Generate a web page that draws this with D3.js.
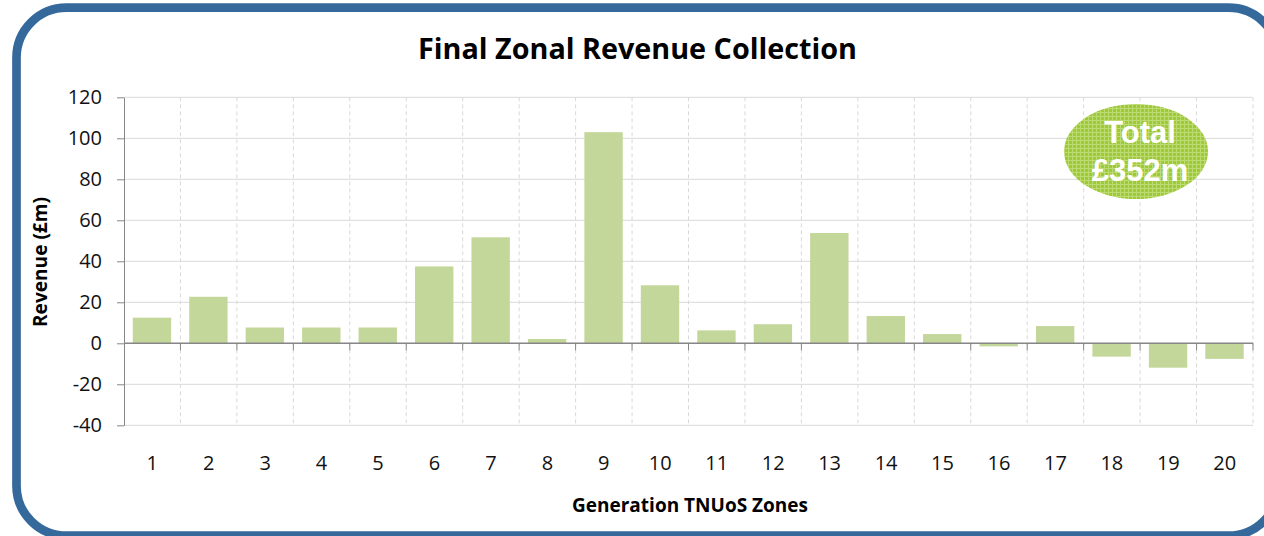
<!DOCTYPE html>
<html>
<head>
<meta charset="utf-8">
<script src="https://cdn.jsdelivr.net/npm/d3@7"></script>
<style>
  html, body { margin: 0; padding: 0; background: #ffffff; }
  svg { display: block; }
</style>
</head>
<body>
<svg id="chart" width="1264" height="536"></svg>
<script>
// ---- data ----
const zones = ["1","2","3","4","5","6","7","8","9","10","11","12","13","14","15","16","17","18","19","20"];
const revenue = [12.5, 22.7, 7.7, 7.7, 7.7, 37.5, 51.7, 2.1, 103, 28.3, 6.3, 9.3, 53.8, 13.3, 4.5, -1.5, 8.4, -6.5, -11.9, -7.6];
const yTicks = [-40, -20, 0, 20, 40, 60, 80, 100, 120];
const titleText = "Final Zonal Revenue Collection";
const xTitle = "Generation TNUoS Zones";
const yTitle = "Revenue (£m)";
const badgeLines = ["Total", "£352m"];

(function () {
const svg = d3.select("#chart");

// frame
svg.append("rect")
  .attr("x", 16.5).attr("y", 7.7)
  .attr("width", 1262).attr("height", 528)
  .attr("rx", 50).attr("ry", 50)
  .attr("fill", "#ffffff")
  .attr("stroke", "#35699c")
  .attr("stroke-width", 8.7);

const pLeft = 124, pRight = 1253, pTop = 97.3, pBottom = 425.3;
const x = d3.scaleBand().domain(zones).range([pLeft, pRight]).padding(0);
const y = d3.scaleLinear().domain([-40, 120]).range([pBottom, pTop]);
const bw = x.bandwidth();

function fitWidth(sel, target) {
  const node = sel.node();
  const fs = parseFloat(sel.attr("font-size"));
  const w = node.getComputedTextLength();
  if (w > 0) sel.attr("font-size", (fs * target / w).toFixed(2));
}

// horizontal gridlines
svg.append("g").selectAll("line").data(yTicks.filter(t => t !== 0)).join("line")
  .attr("x1", pLeft).attr("x2", pRight)
  .attr("y1", d => y(d)).attr("y2", d => y(d))
  .attr("stroke", "#d9d9d9").attr("stroke-width", 1);

// vertical dashed gridlines at category boundaries
const bounds = zones.map(z => x(z) + bw);
svg.append("g").selectAll("line").data(bounds).join("line")
  .attr("x1", d => d).attr("x2", d => d)
  .attr("y1", pTop).attr("y2", pBottom)
  .attr("stroke", "#d9d9d9").attr("stroke-width", 1)
  .attr("stroke-dasharray", "4,3");

// bars
svg.append("g").selectAll("rect").data(zones).join("rect")
  .attr("x", d => x(d) + bw * 0.155)
  .attr("width", bw * 0.68)
  .attr("y", (d, i) => y(Math.max(0, revenue[i])))
  .attr("height", (d, i) => Math.abs(y(revenue[i]) - y(0)))
  .attr("fill", "#c4d79b");

// y axis
const yAxis = svg.append("g").attr("transform", `translate(${pLeft},0)`)
  .call(d3.axisLeft(y).tickValues(yTicks).tickSize(7).tickPadding(15).tickSizeOuter(0)
    .tickFormat(d => String(d)));
yAxis.select(".domain").attr("stroke", "#868686");
yAxis.selectAll(".tick line").attr("stroke", "#868686");
yAxis.selectAll(".tick text")
  .attr("font-family", "'Open Sans', sans-serif").attr("font-size", 20)
  .attr("fill", "#111");

// x axis at zero line
svg.append("line")
  .attr("x1", pLeft).attr("x2", pRight).attr("y1", y(0)).attr("y2", y(0))
  .attr("stroke", "#868686").attr("stroke-width", 1.5);
svg.append("g").selectAll("line").data(bounds).join("line")
  .attr("x1", d => d).attr("x2", d => d)
  .attr("y1", y(0)).attr("y2", y(0) + 7)
  .attr("stroke", "#868686").attr("stroke-width", 1);

// x labels
svg.append("g").selectAll("text").data(zones).join("text")
  .attr("x", d => x(d) + bw / 2)
  .attr("y", 470)
  .attr("text-anchor", "middle")
  .attr("font-family", "'Open Sans', sans-serif").attr("font-size", 20)
  .attr("fill", "#111")
  .text(d => d);

// title
const t = svg.append("text")
  .attr("x", 637.5).attr("y", 59)
  .attr("text-anchor", "middle")
  .attr("font-family", "'Open Sans', sans-serif").attr("font-weight", "bold")
  .attr("font-size", 26).attr("fill", "#000")
  .text(titleText);
fitWidth(t, 439);

// x title
const xt = svg.append("text")
  .attr("x", 690).attr("y", 512)
  .attr("text-anchor", "middle")
  .attr("font-family", "'Open Sans', sans-serif").attr("font-weight", "bold")
  .attr("font-size", 19).attr("fill", "#000")
  .text(xTitle);
fitWidth(xt, 236);

// y title
const yt = svg.append("text")
  .attr("transform", "translate(47,262) rotate(-90)")
  .attr("text-anchor", "middle")
  .attr("font-family", "'Open Sans', sans-serif").attr("font-weight", "bold")
  .attr("font-size", 19).attr("fill", "#000")
  .text(yTitle);
fitWidth(yt, 130);

// badge pattern
const defs = svg.append("defs");
const pat = defs.append("pattern").attr("id", "hatch")
  .attr("patternUnits", "userSpaceOnUse").attr("width", 4).attr("height", 4);
pat.append("rect").attr("width", 4).attr("height", 4).attr("fill", "#9fca38");
pat.append("rect").attr("x", 0).attr("y", 0).attr("width", 4).attr("height", 1).attr("fill", "#bcdb72");
pat.append("rect").attr("x", 0).attr("y", 0).attr("width", 1).attr("height", 4).attr("fill", "#bcdb72");

svg.append("ellipse")
  .attr("cx", 1136).attr("cy", 151.5).attr("rx", 72).attr("ry", 47.5)
  .attr("fill", "url(#hatch)");

svg.append("g").selectAll("text").data(badgeLines).join("text")
  .attr("x", 1140)
  .attr("y", (d, i) => 143 + i * 38)
  .attr("text-anchor", "middle")
  .attr("font-family", "'Liberation Sans', Arial, sans-serif").attr("font-weight", "bold")
  .attr("font-size", 31).attr("fill", "#ffffff")
  .text(d => d);
})();
</script>
</body>
</html>
